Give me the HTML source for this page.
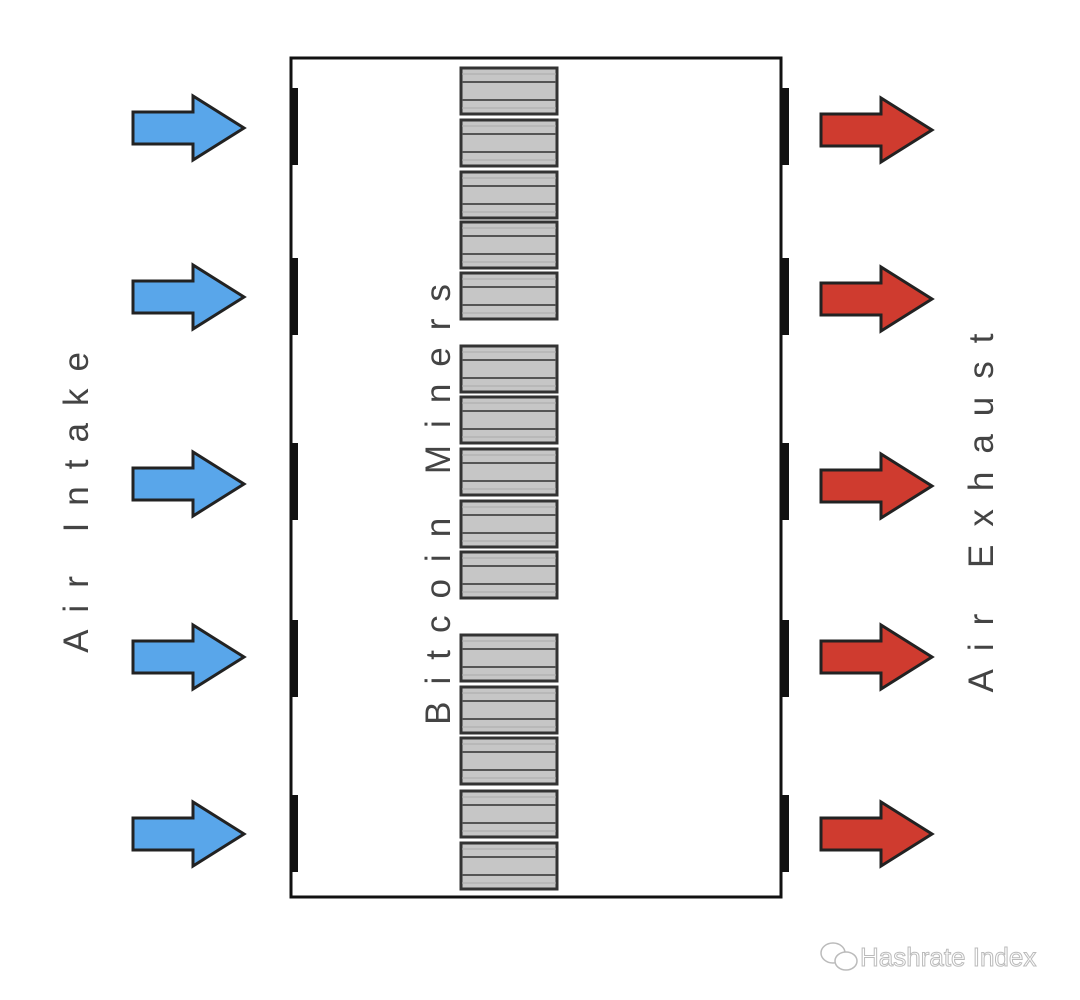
<!DOCTYPE html>
<html><head><style>body{margin:0;background:#fff}svg{display:block}</style></head>
<body>
<svg width="1080" height="1000" viewBox="0 0 1080 1000" xmlns="http://www.w3.org/2000/svg">
<defs>
<g id="m">
<rect x="461" y="0" width="96" height="46" fill="#c6c6c6" stroke="#333" stroke-width="3"/>
<line x1="462" y1="14" x2="556" y2="14" stroke="#555" stroke-width="2"/>
<line x1="462" y1="32" x2="556" y2="32" stroke="#555" stroke-width="2"/>
<line x1="462" y1="6" x2="556" y2="6" stroke="#aaa" stroke-width="1"/>
<line x1="462" y1="40" x2="556" y2="40" stroke="#aaa" stroke-width="1"/>
</g>
<path id="la" d="M133,112 H193 V96 L244,128 L193,160 V144 H133 Z" fill="#59a6ea" stroke="#222" stroke-width="3" stroke-linejoin="miter"/>
<path id="ra" d="M821,114 H881 V98 L932,130 L881,162 V146 H821 Z" fill="#cf3b2f" stroke="#222" stroke-width="3"/>
</defs>
<rect x="291" y="58" width="490" height="839" fill="#fff" stroke="#111" stroke-width="3"/>
<g fill="#111">
<rect x="292" y="88" width="6" height="77"/><rect x="292" y="258" width="6" height="77"/><rect x="292" y="443" width="6" height="77"/><rect x="292" y="620" width="6" height="77"/><rect x="292" y="795" width="6" height="77"/>
<rect x="782" y="88" width="7" height="77"/><rect x="782" y="258" width="7" height="77"/><rect x="782" y="443" width="7" height="77"/><rect x="782" y="620" width="7" height="77"/><rect x="782" y="795" width="7" height="77"/>
</g>
<use href="#la" y="0"/><use href="#la" y="169"/><use href="#la" y="356"/><use href="#la" y="529"/><use href="#la" y="706"/>
<use href="#ra" y="0"/><use href="#ra" y="169"/><use href="#ra" y="356"/><use href="#ra" y="527"/><use href="#ra" y="704"/>
<use href="#m" y="68"/><use href="#m" y="120"/><use href="#m" y="172"/><use href="#m" y="222"/><use href="#m" y="273"/>
<use href="#m" y="346"/><use href="#m" y="397"/><use href="#m" y="449"/><use href="#m" y="501"/><use href="#m" y="552"/>
<use href="#m" y="635"/><use href="#m" y="687"/><use href="#m" y="738"/><use href="#m" y="791"/><use href="#m" y="843"/>
<g font-family="Liberation Sans, sans-serif" font-size="35" fill="#444" text-anchor="middle">
<text transform="translate(450,496) rotate(-90)" letter-spacing="17">Bitcoin Miners</text>
<text transform="translate(88,494) rotate(-90)" letter-spacing="17">Air Intake</text>
<text transform="translate(993,504) rotate(-90)" letter-spacing="18">Air Exhaust</text>
</g>
<text x="860" y="966" font-family="Liberation Sans, sans-serif" font-size="26" fill="#fff" stroke="#bbb" stroke-width="1">Hashrate Index</text>
<g fill="none" stroke="#bbb" stroke-width="1.5"><ellipse cx="833" cy="953" rx="12" ry="10"/><ellipse cx="846" cy="961" rx="11" ry="9" fill="#fff"/></g>
</svg>
</body></html>
